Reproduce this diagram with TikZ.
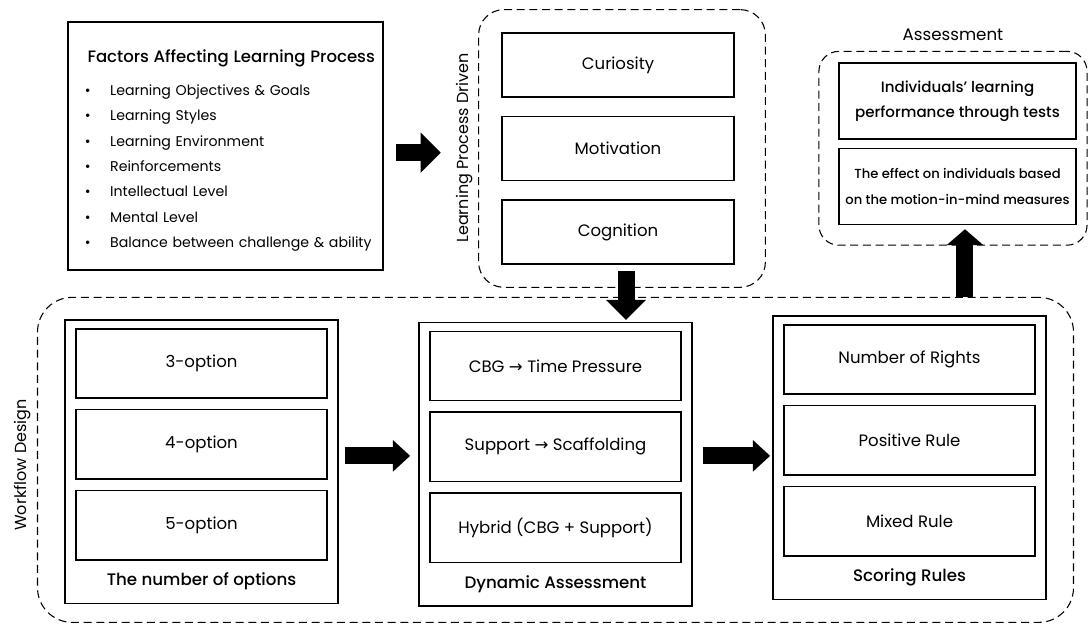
\documentclass[tikz,border=0pt]{standalone}
\usepackage{fontspec}
\setmainfont{Poppins}
\newfontfamily\medfont{Poppins Medium}
\newfontfamily\symfont{DejaVu Sans}
\usetikzlibrary{arrows.meta,positioning,fit}

\newcommand{\fitem}[1]{\hspace*{7.5pt}\makebox[19pt][l]{\textbullet}#1}
\newcommand{\toarr}{{\symfont →}}

\begin{document}
\begin{tikzpicture}[x=0.75pt,y=-0.75pt,
	optbox/.style={rectangle,draw,line width=1.1pt,minimum width=188pt,minimum height=52pt,font=\fontsize{12.4}{15}\selectfont},
	drivebox/.style={rectangle,draw,line width=1.1pt,minimum width=174pt,minimum height=48pt,font=\fontsize{12.4}{15}\selectfont},
	testbox/.style={rectangle,draw,line width=1.1pt,minimum width=178pt,minimum height=57pt,align=center},
	caption/.style={inner ysep=4pt,font=\medfont\fontsize{12.5}{15}\selectfont},
	panel/.style={rectangle,draw,line width=1.1pt,inner xsep=7.9pt,inner ysep=6pt},
	group/.style={rectangle,draw,dashed,dash pattern=on 6pt off 3.5pt,line width=0.8pt},
	sidelabel/.style={rotate=90,font=\fontsize{12}{14}\selectfont},
	fatarrow/.style={line width=12.75pt,-{Triangle[length=15pt,width=29pt]}}]
	\useasboundingbox (0,0) rectangle (1088,626);

	% factors
	\node[draw,line width=1.1pt,minimum height=186pt,text width=226pt,inner xsep=5pt,align=left,font=\fontsize{10.6}{19}\selectfont] (factors) at (225.5,146) {\mbox{\medfont\fontsize{12.4}{15}\selectfont\rule{0pt}{16pt}\hspace*{9.5pt}Factors Affecting Learning Process}\\[6pt]
		\fitem{Learning Objectives \& Goals}\\
		\fitem{Learning Styles}\\
		\fitem{Learning Environment}\\
		\fitem{Reinforcements}\\
		\fitem{Intellectual Level}\\
		\fitem{Mental Level}\\
		\fitem{Balance between challenge \& ability}};

	% learning process driven
	\node[drivebox] (curiosity) at (618,65) {Curiosity};
	\node[drivebox,below=13.5pt of curiosity] (motivation) {Motivation};
	\node[drivebox,below=13.5pt of motivation] (cognition) {Cognition};
	\node[group,fit=(curiosity)(cognition),inner xsep=20pt,inner ysep=17pt,xshift=3pt,rounded corners=19pt] (lpdgrp) {};
	\node[sidelabel] (lpdlabel) at (465,148) {Learning Process Driven};

	% assessment
	\node[testbox,font=\medfont\fontsize{11.3}{18.75}\selectfont] (indiv) at (957.5,101) {Individuals’ learning\\performance through tests};
	\node[testbox,below=6pt of indiv,font=\medfont\fontsize{9.85}{20}\selectfont] (effect) {The effect on individuals based\\on the motion-in-mind measures};
	\node[group,fit=(indiv)(effect),inner xsep=11pt,inner ysep=11.6pt,xshift=-3.4pt,yshift=-3.4pt,rounded corners=15pt] (assessgrp) {};
	\node[above=4pt of assessgrp,font=\fontsize{12.5}{15}\selectfont] (assesslabel) {Assessment};

	% workflow design
	\node[optbox] (optA3) at (201.5,363.5) {3-option};
	\node[optbox,below=7.5pt of optA3] (optA4) {4-option};
	\node[optbox,below=7.5pt of optA4] (optA5) {5-option};
	\node[caption,below=5pt of optA5] (capA) {The number of options};
	\node[panel,fit=(optA3)(optA5)(capA)] (panelA) {};

	\node[optbox] (optB1) at (555.5,366) {CBG \toarr{} Time Pressure};
	\node[optbox,below=7.5pt of optB1] (optB2) {Support \toarr{} Scaffolding};
	\node[optbox,below=7.5pt of optB2] (optB3) {Hybrid (CBG + Support)};
	\node[caption,below=5pt of optB3] (capB) {Dynamic Assessment};
	\node[panel,fit=(optB1)(optB3)(capB)] (panelB) {};

	\node[optbox] (optC1) at (909.5,359.5) {Number of Rights};
	\node[optbox,below=7.5pt of optC1] (optC2) {Positive Rule};
	\node[optbox,below=7.5pt of optC2] (optC3) {Mixed Rule};
	\node[caption,below=5pt of optC3] (capC) {Scoring Rules};
	\node[panel,fit=(optC1)(optC3)(capC)] (panelC) {};

	\node[group,fit=(panelA)(panelC),inner xsep=20pt,inner ysep=13.5pt,rounded corners=26pt] (workflow) {};
	\node[sidelabel] (wflabel) at (23,465) {Workflow Design};

	% arrows
	\draw[fatarrow,shorten <=9pt,shorten >=28pt] ([yshift=-5pt]factors.east) -- ([yshift=-5pt]factors.east -| lpdgrp.west);
	\draw[fatarrow,shorten <=5pt,shorten >=1.5pt] ([xshift=6pt]cognition.south) -- ([xshift=6pt]cognition.south |- panelB.north);
	\draw[fatarrow,-{Triangle[length=13pt,width=23pt]},shorten <=4.5pt,shorten >=6pt] ([yshift=4.5pt]panelA.east) -- ([yshift=4.5pt]panelA.east -| panelB.west);
	\draw[fatarrow,-{Triangle[length=13pt,width=23pt]},shorten <=7.5pt,shorten >=1.5pt] ([yshift=4.5pt]panelA.east -| panelB.east) -- ([yshift=4.5pt]panelA.east -| panelC.west);
	\draw[fatarrow,-{Triangle[length=12pt,width=27pt]},shorten >=3pt] ([xshift=5.6pt]effect.south |- workflow.north) -- ([xshift=5.6pt]effect.south);
\end{tikzpicture}
\end{document}
